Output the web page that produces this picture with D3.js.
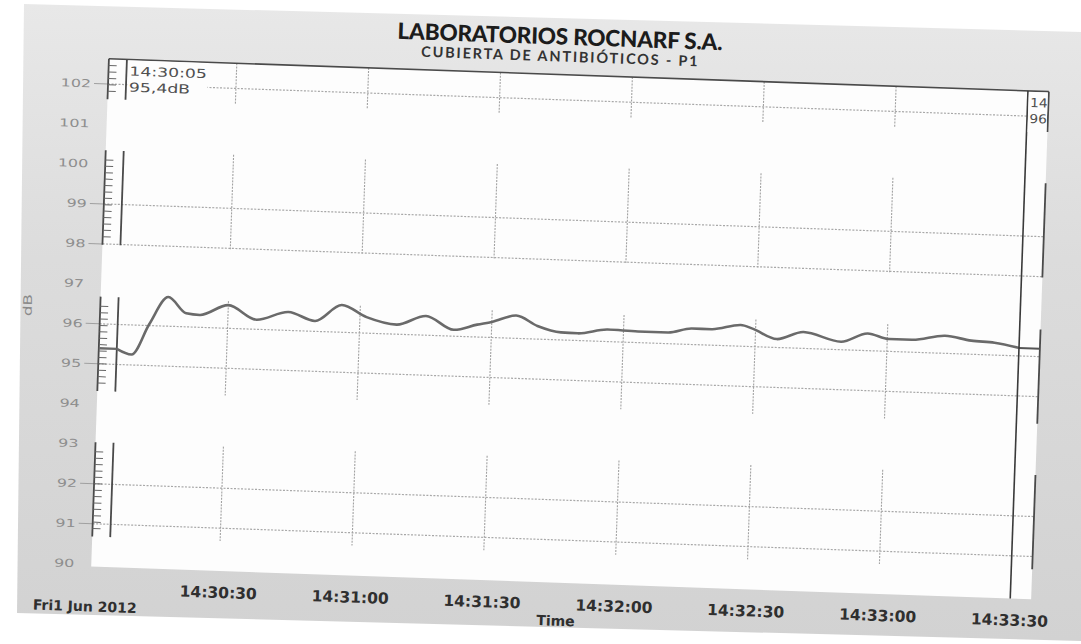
<!DOCTYPE html>
<html><head><meta charset="utf-8">
<script src="https://cdn.jsdelivr.net/npm/d3@7"></script>
<style>body{margin:0;background:#fff;} svg{display:block;}</style>
</head><body><svg id="c" width="1081" height="644"></svg>
<script>
// ---------- data ----------
const titleText = "LABORATORIOS ROCNARF S.A.";
const subtitleText = "CUBIERTA DE ANTIBIÓTICOS - P1";
const dateLabel = "Fri1 Jun 2012";
const xAxisTitle = "Time";
const yAxisTitle = "dB";
// seconds after 14:30:00 and sound level (dB)
const seconds = [5, 8.4, 12.2, 16.3, 20.5, 23.6, 30, 36.5, 43.7, 49.8, 55.8, 61.5, 68.4, 75, 81.4, 86.7, 90, 95.5, 100.4, 105.8, 109.6, 116.4, 123.3, 130.1, 135.5, 140, 146.6, 149.3, 154.9, 160.9, 169.5, 175.5, 180.4, 185.6, 193.1, 199.1, 204.4, 210];
const levels  = [95.39, 95.26, 96.04, 96.73, 96.34, 96.31, 96.58, 96.24, 96.46, 96.26, 96.68, 96.40, 96.24, 96.48, 96.16, 96.31, 96.39, 96.57, 96.33, 96.19, 96.18, 96.30, 96.28, 96.28, 96.40, 96.40, 96.53, 96.45, 96.21, 96.41, 96.20, 96.43, 96.31, 96.31, 96.44, 96.34, 96.31, 96.20];
const yTickValues = [90, 91, 92, 93, 94, 95, 96, 97, 98, 99, 100, 101, 102];
const gridValues = [102, 99, 98, 96, 95, 92, 91];
const xTickLabels = ["14:30:30", "14:31:00", "14:31:30", "14:32:00", "14:32:30", "14:33:00", "14:33:30"];
const bands = [[101.62, 102.63], [97.98, 100.34], [94.32, 96.68], [90.68, 93.04]];
const startCursor = ["14:30:05", "95,4dB"];
const endCursorVisible = ["14", "96"];   // the part of the end-cursor label visible at the right edge
const yDomain = [89.93, 102.63];
const xDomain = ["14:30:05", "14:33:30"];

// ---------- setup ----------
const parse = d3.timeParse("%H:%M:%S");
const base = parse("14:30:00");
const data = seconds.map((s, i) => ({t: new Date(+base + s * 1000), v: levels[i]}));

const plotL = 118, plotR = 1019.6, plotT = 74, plotB = 582;
const stripL = 100, stripR = 1040.5;
const x = d3.scaleTime().domain(xDomain.map(parse)).range([plotL, plotR]);
const y = d3.scaleLinear().domain(yDomain).range([plotB, plotT]);

const svg = d3.select("#c");
const defs = svg.append("defs");
const grad = defs.append("linearGradient").attr("id", "bg").attr("x1", 0).attr("y1", 0).attr("x2", 0).attr("y2", 1);
grad.append("stop").attr("offset", "0").attr("stop-color", "#e8e8e8");
grad.append("stop").attr("offset", "0.4").attr("stop-color", "#dcdcdc");
grad.append("stop").attr("offset", "1").attr("stop-color", "#d2d2d2");
defs.append("clipPath").attr("id", "plotclip").append("rect")
  .attr("x", plotL).attr("y", plotT).attr("width", plotR - plotL).attr("height", plotB - plotT);

// scanned page background
svg.append("polygon").attr("points", "24,4 1081,32 1081,641 17,613").attr("fill", "url(#bg)");

const g = svg.append("g").attr("transform", "rotate(2,540,322)");

// white chart area
g.append("rect").attr("x", stripL).attr("y", plotT).attr("width", stripR - stripL).attr("height", plotB - plotT).attr("fill", "#fdfdfd");

// horizontal grid lines + ticks
g.selectAll(".hg").data(gridValues).join("line")
  .attr("x1", stripL).attr("x2", stripR).attr("y1", d => y(d)).attr("y2", d => y(d))
  .attr("stroke", "#a8a8a8").attr("stroke-width", 1.2).attr("stroke-dasharray", "2,1.5");
g.selectAll(".ht").data(gridValues).join("line")
  .attr("x1", 86).attr("x2", stripL).attr("y1", d => y(d)).attr("y2", d => y(d))
  .attr("stroke", "#a0a0a0").attr("stroke-width", 1);

// vertical grid segments inside bands
const xTimes = xTickLabels.map(parse);
bands.forEach(b => {
  g.selectAll(null).data(xTimes.slice(0, 6)).join("line")
    .attr("x1", d => x(d)).attr("x2", d => x(d))
    .attr("y1", y(Math.min(b[1], yDomain[1]))).attr("y2", y(b[0]))
    .attr("stroke", "#a2a2a2").attr("stroke-width", 1.1).attr("stroke-dasharray", "2,1.2");
});

// rulers
bands.forEach(b => {
  const y1 = y(b[1]), y2 = y(b[0]);
  [stripL, plotL, stripR].forEach(xx => {
    g.append("line").attr("x1", xx).attr("x2", xx).attr("y1", y1).attr("y2", y2)
      .attr("stroke", "#4a4a4a").attr("stroke-width", 1.8);
  });
  g.selectAll(null).data(d3.range(b[0] + 0.2, b[1] - 0.1, 0.16)).join("line")
    .attr("x1", stripL).attr("x2", stripL + 8).attr("y1", d => y(d)).attr("y2", d => y(d))
    .attr("stroke", "#666").attr("stroke-width", 1);
});

// top border
g.append("line").attr("x1", stripL).attr("x2", stripR).attr("y1", plotT).attr("y2", plotT)
  .attr("stroke", "#4a4a4a").attr("stroke-width", 1.6);

// data line
const line = d3.line().x(d => x(d.t)).y(d => y(d.v)).curve(d3.curveMonotoneX);
g.append("path").datum(data).attr("d", line).attr("clip-path", "url(#plotclip)")
  .attr("fill", "none").attr("stroke", "#6a6a6a").attr("stroke-width", 2.6);
// cursor markers
g.append("line").attr("x1", stripL).attr("x2", plotL).attr("y1", y(levels[0])).attr("y2", y(levels[0]))
  .attr("stroke", "#6a6a6a").attr("stroke-width", 2.4);
g.append("line").attr("x1", plotR).attr("x2", stripR).attr("y1", y(levels[levels.length - 1])).attr("y2", y(levels[levels.length - 1]))
  .attr("stroke", "#555").attr("stroke-width", 2);
// right cursor line
g.append("line").attr("x1", plotR).attr("x2", plotR).attr("y1", plotT).attr("y2", plotB)
  .attr("stroke", "#3a3a3a").attr("stroke-width", 1.6);

// cursor labels
g.append("rect").attr("x", plotL + 1.5).attr("y", plotT + 1).attr("width", 80).attr("height", 34).attr("fill", "#fdfdfd");
const cl = g.append("g").attr("fill", "#505050").style("font-family", "DejaVu Sans").style("font-size", "12.5px");
cl.append("text").attr("transform", `translate(${plotL + 3},${plotT + 16}) scale(1.38,1)`).text(startCursor[0]);
cl.append("text").attr("transform", `translate(${plotL + 3},${plotT + 32}) scale(1.38,1)`).text(startCursor[1]);
g.append("rect").attr("x", plotR + 1).attr("y", plotT + 1).attr("width", stripR - plotR - 2).attr("height", 40).attr("fill", "#fdfdfd");
const rc = g.append("g").attr("fill", "#505050").style("font-family", "DejaVu Sans").style("font-size", "12.5px");
rc.append("text").attr("transform", `translate(${plotR + 2.5},${plotT + 16}) scale(1.1,1)`).text(endCursorVisible[0]);
rc.append("text").attr("transform", `translate(${plotR + 2.5},${plotT + 32}) scale(1.1,1)`).text(endCursorVisible[1]);

// y tick labels
g.selectAll(".yl").data(yTickValues).join("text")
  .attr("transform", d => `translate(83,${y(d)}) scale(1.45,1)`)
  .attr("text-anchor", "end").attr("dominant-baseline", "central")
  .style("font-family", "DejaVu Sans").style("font-size", "11px").attr("fill", "#8e8e8e")
  .text(d => d);
// y axis title
g.append("text").attr("transform", "translate(27,323) rotate(-90) scale(1.4,1)")
  .attr("text-anchor", "middle").attr("dominant-baseline", "central")
  .style("font-family", "DejaVu Sans").style("font-size", "12px").attr("fill", "#8a8a8a").text(yAxisTitle);

// x tick labels
g.selectAll(".xl").data(xTimes).join("text")
  .attr("x", d => x(d)).attr("y", 609).attr("text-anchor", "middle")
  .style("font-family", "DejaVu Sans").style("font-weight", "bold").style("font-size", "15.5px")
  .attr("fill", "#2f2f2f").text((d, i) => xTickLabels[i]);
g.append("text").attr("x", 43).attr("y", 627)
  .style("font-family", "DejaVu Sans").style("font-weight", "bold").style("font-size", "14px")
  .attr("fill", "#2f2f2f").text(dateLabel);
g.append("text").attr("x", 566).attr("y", 625).attr("text-anchor", "middle")
  .style("font-family", "DejaVu Sans").style("font-weight", "bold").style("font-size", "14px")
  .attr("fill", "#2f2f2f").text(xAxisTitle);

// titles
g.append("text").attr("x", 550).attr("y", 44).attr("text-anchor", "middle")
  .style("font-family", "Lato").style("font-weight", "900").style("font-size", "22.5px")
  .style("letter-spacing", "-0.2px").attr("fill", "#1c1c1c").text(titleText);
g.append("text").attr("x", 551).attr("y", 61).attr("text-anchor", "middle")
  .style("font-family", "Lato").style("font-weight", "bold").style("font-size", "14.5px")
  .style("letter-spacing", "1.8px").attr("fill", "#333").text(subtitleText);
</script></body></html>
